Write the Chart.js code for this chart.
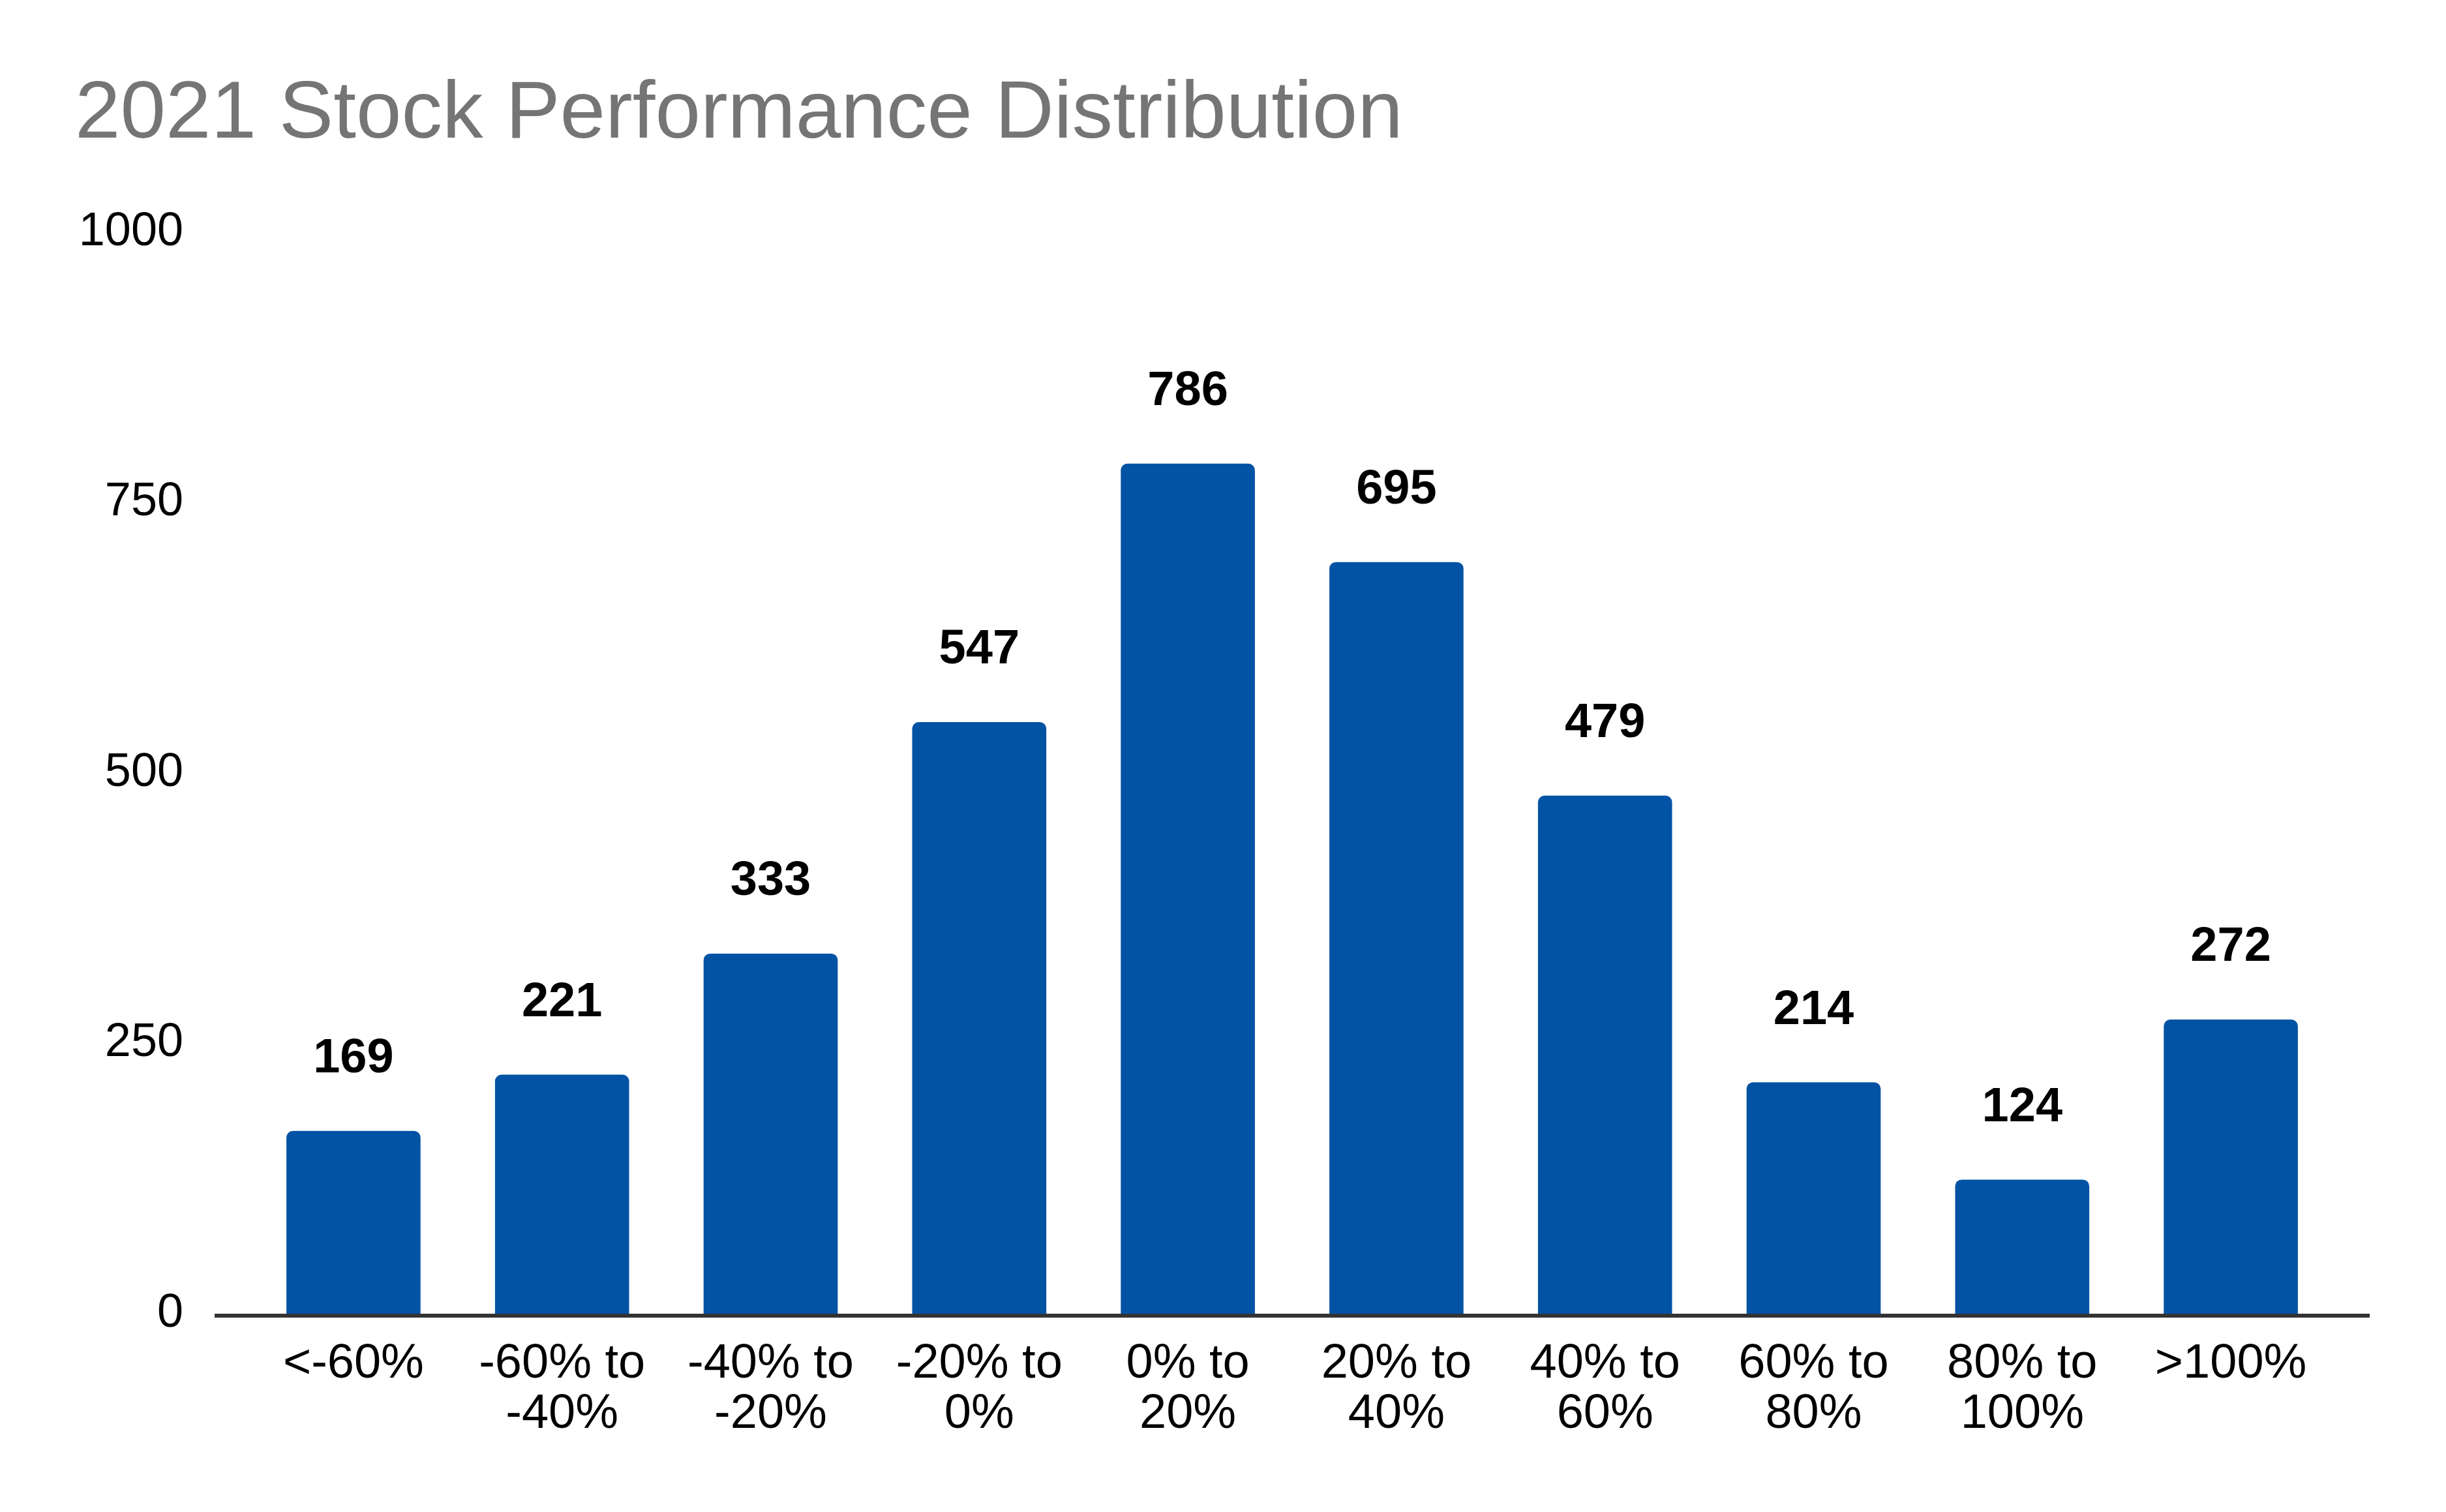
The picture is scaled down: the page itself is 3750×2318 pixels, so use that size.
<!DOCTYPE html>
<html>
<head>
<meta charset="utf-8">
<script src="https://cdn.jsdelivr.net/npm/chart.js@4/dist/chart.umd.min.js"></script>
<style>
  html, body { margin: 0; padding: 0; background: #ffffff; }
  #wrap { width: 3750px; height: 2318px; position: relative; }
</style>
</head>
<body>
<div id="wrap"><canvas id="c"></canvas></div>
<script>
const chartTitle = '2021 Stock Performance Distribution';
const categories = [
  ['<-60%'],
  ['-60% to', '-40%'],
  ['-40% to', '-20%'],
  ['-20% to', '0%'],
  ['0% to', '20%'],
  ['20% to', '40%'],
  ['40% to', '60%'],
  ['60% to', '80%'],
  ['80% to', '100%'],
  ['>100%']
];
const stockCounts = [169, 221, 333, 547, 786, 695, 479, 214, 124, 272];
const yTicks = [0, 250, 500, 750, 1000];

const FONT = "'Liberation Sans', Arial, Helvetica, sans-serif";

const valueLabels = {
  id: 'valueLabels',
  afterDatasetsDraw(chart) {
    const ctx = chart.ctx;
    const meta = chart.getDatasetMeta(0);
    ctx.save();
    ctx.font = 'bold 74px ' + FONT;
    ctx.fillStyle = '#000000';
    ctx.textAlign = 'center';
    ctx.textBaseline = 'middle';
    meta.data.forEach((bar, i) => {
      ctx.fillText(String(stockCounts[i]), bar.x, bar.y - 110);
    });
    ctx.restore();
  }
};

const baseLine = {
  id: 'baseLine',
  afterDatasetsDraw(chart) {
    const ctx = chart.ctx;
    const a = chart.chartArea;
    const y0 = chart.scales.y.getPixelForValue(0) + 3;
    ctx.save();
    ctx.strokeStyle = '#333333';
    ctx.lineWidth = 6;
    ctx.beginPath();
    ctx.moveTo(a.left - 53, y0);
    ctx.lineTo(a.right + 53, y0);
    ctx.stroke();
    ctx.restore();
  }
};

new Chart(document.getElementById('c'), {
  type: 'bar',
  data: {
    labels: categories,
    datasets: [{
      data: stockCounts,
      backgroundColor: '#0353A4',
      borderWidth: 0,
      borderRadius: { topLeft: 10, topRight: 10, bottomLeft: 0, bottomRight: 0 },
      borderSkipped: 'bottom',
      categoryPercentage: 1.0,
      barPercentage: 0.643
    }]
  },
  options: {
    responsive: true,
    maintainAspectRatio: false,
    devicePixelRatio: 1,
    animation: false,
    layout: { padding: { left: 115, right: 170, top: 0, bottom: 0 } },
    plugins: {
      legend: { display: false },
      tooltip: { enabled: false },
      title: {
        display: true,
        text: chartTitle,
        align: 'start',
        color: '#757575',
        font: { family: FONT, size: 125, weight: 'normal', lineHeight: 1.2 },
        padding: { top: 102, bottom: 104 }
      }
    },
    scales: {
      x: {
        grid: { display: false, drawTicks: false },
        border: { display: false },
        ticks: {
          color: '#000000',
          font: { family: FONT, size: 74, lineHeight: 1.04 },
          padding: 39,
          maxRotation: 0,
          autoSkip: false
        },
        afterFit(scale) { scale.height = 304; }
      },
      y: {
        min: 0,
        max: 1000,
        grid: { display: false, drawTicks: false },
        border: { display: false },
        afterBuildTicks(scale) { scale.ticks = yTicks.map(v => ({ value: v })); },
        ticks: {
          color: '#000000',
          font: { family: FONT, size: 72 },
          padding: 101,
          callback: (v) => String(v)
        },
        afterFit(scale) { scale.width = 267; }
      }
    }
  },
  plugins: [valueLabels, baseLine]
});
</script>
</body>
</html>
